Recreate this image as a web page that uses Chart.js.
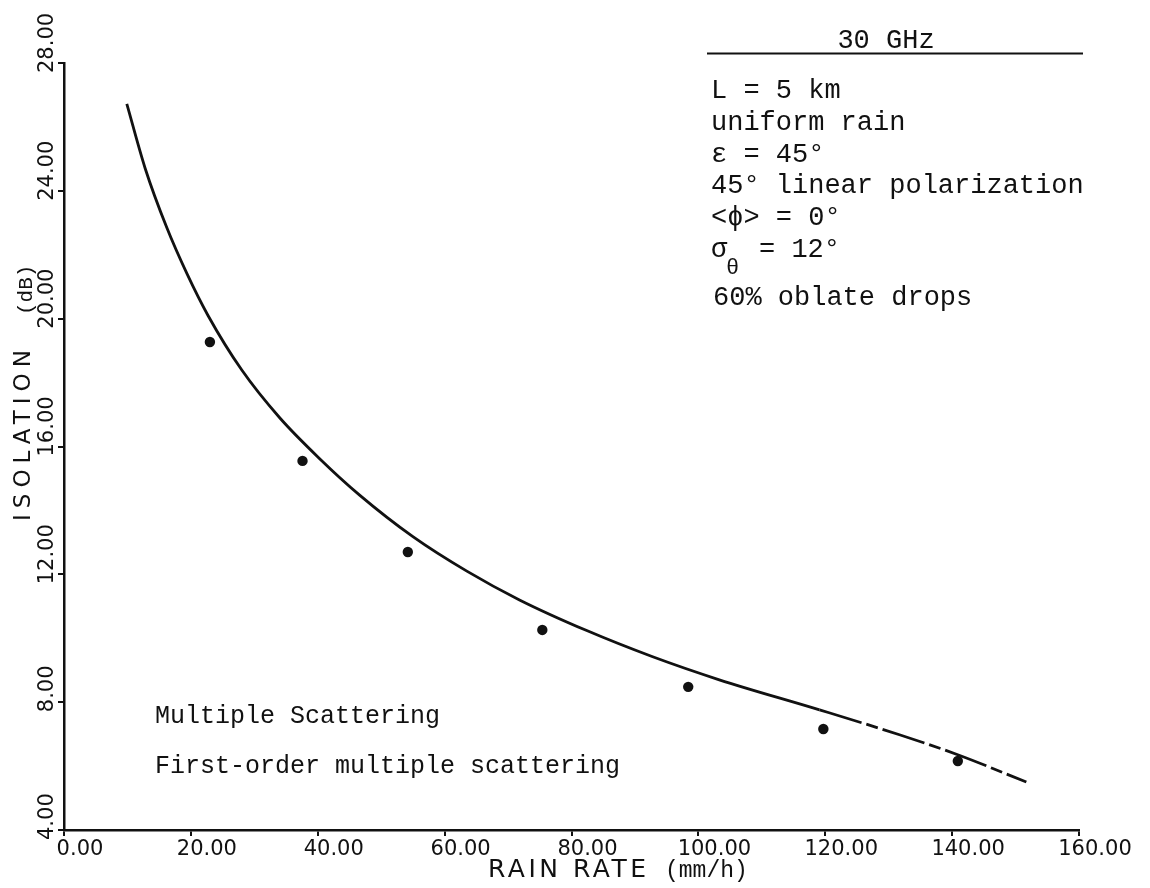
<!DOCTYPE html>
<html>
<head>
<meta charset="utf-8">
<title>Isolation vs rain rate, 30 GHz</title>
<script src="https://cdn.jsdelivr.net/npm/chart.js@4.4.0/dist/chart.umd.min.js"></script>
<style>
  html, body { margin: 0; padding: 0; background: #ffffff; }
  #wrap { width: 1150px; height: 888px; }
  canvas { display: block; }
</style>
</head>
<body>
<div id="wrap"><canvas id="chart" width="1150" height="888"></canvas></div>
<script>
// First-order multiple scattering curve: rain rate (mm/h) -> isolation (dB)
const curveRain = [9.9, 12.8, 16.2, 19.4, 22.7, 28.0, 34.0, 40.3, 46.6, 55.0,
                   63.5, 71.8, 82.4, 92.8, 103.3, 119.1, 131.7, 141.1, 151.7];
const curveIsolation = [26.72, 24.70, 22.85, 21.40, 20.10, 18.40, 16.90, 15.62, 14.48, 13.18,
                        12.10, 11.20, 10.24, 9.42, 8.70, 7.76, 6.98, 6.34, 5.50];

// Multiple scattering results (dots)
const pointRain = [23.0, 37.6, 54.2, 75.4, 98.4, 119.7, 140.9];
const pointIsolation = [19.27, 15.55, 12.70, 10.26, 8.48, 7.16, 6.16];

// Axis ticks
const xTicks = [0, 20, 40, 60, 80, 100, 120, 140, 160];
const yTicks = [4, 8, 12, 16, 20, 24, 28];

// Text on the plot
const xTitleMain = 'RAIN RATE';
const xTitleUnit = '(mm/h)';
const yTitleMain = 'ISOLATION';
const yTitleUnit = '(dB)';
const frequencyLabel = '30 GHz';
const conditionLines = ['L = 5 km', 'uniform rain', 'ε = 45°', '45° linear polarization', '<ϕ> = 0°'];
const sigmaLine = ['σ', 'θ', '= 12°'];
const dropLine = '60% oblate drops';
const methodLabels = ['Multiple Scattering', 'First-order multiple scattering'];

const INK = '#111111';
const MONO = '"Liberation Mono", "DejaVu Sans Mono", monospace';
const PLOT = '"DejaVu Sans", sans-serif';

function fmt(v) { return Number(v).toFixed(2); }

function drawUp(ctx, text, x, y, font, spacing) {
  ctx.save();
  ctx.translate(x, y);
  ctx.rotate(-Math.PI / 2);
  ctx.font = font;
  if ('letterSpacing' in ctx) ctx.letterSpacing = spacing || '0px';
  ctx.textAlign = 'left';
  ctx.textBaseline = 'alphabetic';
  ctx.fillText(text, 0, 0);
  ctx.restore();
}

const paperPlugin = {
  id: 'paper',
  beforeDraw(chart) {
    const ctx = chart.ctx;
    ctx.save();
    ctx.fillStyle = '#ffffff';
    ctx.fillRect(0, 0, chart.width, chart.height);
    ctx.restore();
  },
  afterDraw(chart) {
    const ctx = chart.ctx;
    const ys = chart.scales.y;
    ctx.save();
    ctx.fillStyle = INK;
    ctx.strokeStyle = INK;

    // rotated y tick labels, reading upward from just below each tick
    yTicks.forEach(v => {
      const py = ys.getPixelForValue(v);
      drawUp(ctx, fmt(v), ys.right - 11, py + 10, '21px ' + PLOT);
    });

    // y axis title
    drawUp(ctx, yTitleMain, 30, 521, '23px ' + PLOT, '6px');
    drawUp(ctx, yTitleUnit, 32, 315, '21px ' + MONO);

    // x axis title
    ctx.textAlign = 'left';
    ctx.textBaseline = 'alphabetic';
    ctx.font = '25px ' + PLOT;
    if ('letterSpacing' in ctx) ctx.letterSpacing = '3.5px';
    ctx.fillText(xTitleMain, 488, 877);
    if ('letterSpacing' in ctx) ctx.letterSpacing = '0px';
    ctx.font = '23px ' + MONO;
    ctx.fillText(xTitleUnit, 665, 877);

    // condition block, top right
    ctx.font = '27px ' + MONO;
    ctx.textAlign = 'center';
    ctx.fillText(frequencyLabel, 886, 48);
    ctx.lineWidth = 2;
    ctx.beginPath();
    ctx.moveTo(707, 53.5);
    ctx.lineTo(1083, 53.5);
    ctx.stroke();

    ctx.textAlign = 'left';
    const baselines = [98, 130, 162, 193, 225];
    conditionLines.forEach((t, i) => ctx.fillText(t, 711, baselines[i]));
    ctx.fillText(sigmaLine[0], 711, 257);
    ctx.font = '22px ' + MONO;
    ctx.fillText(sigmaLine[1], 726, 274);
    ctx.font = '27px ' + MONO;
    ctx.fillText(sigmaLine[2], 759, 257);
    ctx.fillText(dropLine, 713, 305);

    // method labels, lower left
    ctx.font = '25px ' + MONO;
    ctx.fillText(methodLabels[0], 155, 723);
    ctx.fillText(methodLabels[1], 155, 773);
    ctx.restore();
  }
};

const curveData = curveRain.map((x, i) => ({ x: x, y: curveIsolation[i] }));
const pointData = pointRain.map((x, i) => ({ x: x, y: pointIsolation[i] }));

new Chart(document.getElementById('chart'), {
  type: 'scatter',
  data: {
    datasets: [
      {
        label: 'First-order multiple scattering',
        data: curveData,
        showLine: true,
        borderColor: INK,
        borderWidth: 2.8,
        pointRadius: 0,
        cubicInterpolationMode: 'monotone',
        segment: {
          // the pen line breaks up a little toward the far end
          borderDash: ctx => (ctx.p0.parsed.x >= 119 ? [44, 5, 12, 5] : undefined)
        }
      },
      {
        label: 'Multiple Scattering',
        data: pointData,
        showLine: false,
        pointRadius: 5.2,
        pointBackgroundColor: INK,
        pointBorderColor: INK,
        pointBorderWidth: 0
      }
    ]
  },
  options: {
    responsive: false,
    animation: false,
    devicePixelRatio: 1,
    layout: { padding: { left: 0, top: 63, right: 71, bottom: 0 } },
    plugins: {
      legend: { display: false },
      tooltip: { enabled: false },
      title: { display: false }
    },
    scales: {
      x: {
        type: 'linear',
        min: 0,
        max: 160,
        afterFit: s => { s.height = 58; },
        afterBuildTicks: s => { s.ticks = xTicks.map(v => ({ value: v })); },
        border: { display: true, color: INK, width: 2.5 },
        grid: { drawOnChartArea: false, drawTicks: true, tickLength: 6, color: INK, lineWidth: 2 },
        ticks: {
          color: INK,
          font: { family: 'DejaVu Sans', size: 21 },
          padding: 1,
          labelOffset: 16,
          maxRotation: 0,
          minRotation: 0,
          callback: v => fmt(v)
        }
      },
      y: {
        type: 'linear',
        min: 4,
        max: 28,
        afterFit: s => { s.width = 64; },
        afterBuildTicks: s => { s.ticks = yTicks.map(v => ({ value: v })); },
        border: { display: true, color: INK, width: 2.5 },
        grid: { drawOnChartArea: false, drawTicks: true, tickLength: 6, color: INK, lineWidth: 2 },
        ticks: { display: false }
      }
    }
  },
  plugins: [paperPlugin]
});
</script>
</body>
</html>
